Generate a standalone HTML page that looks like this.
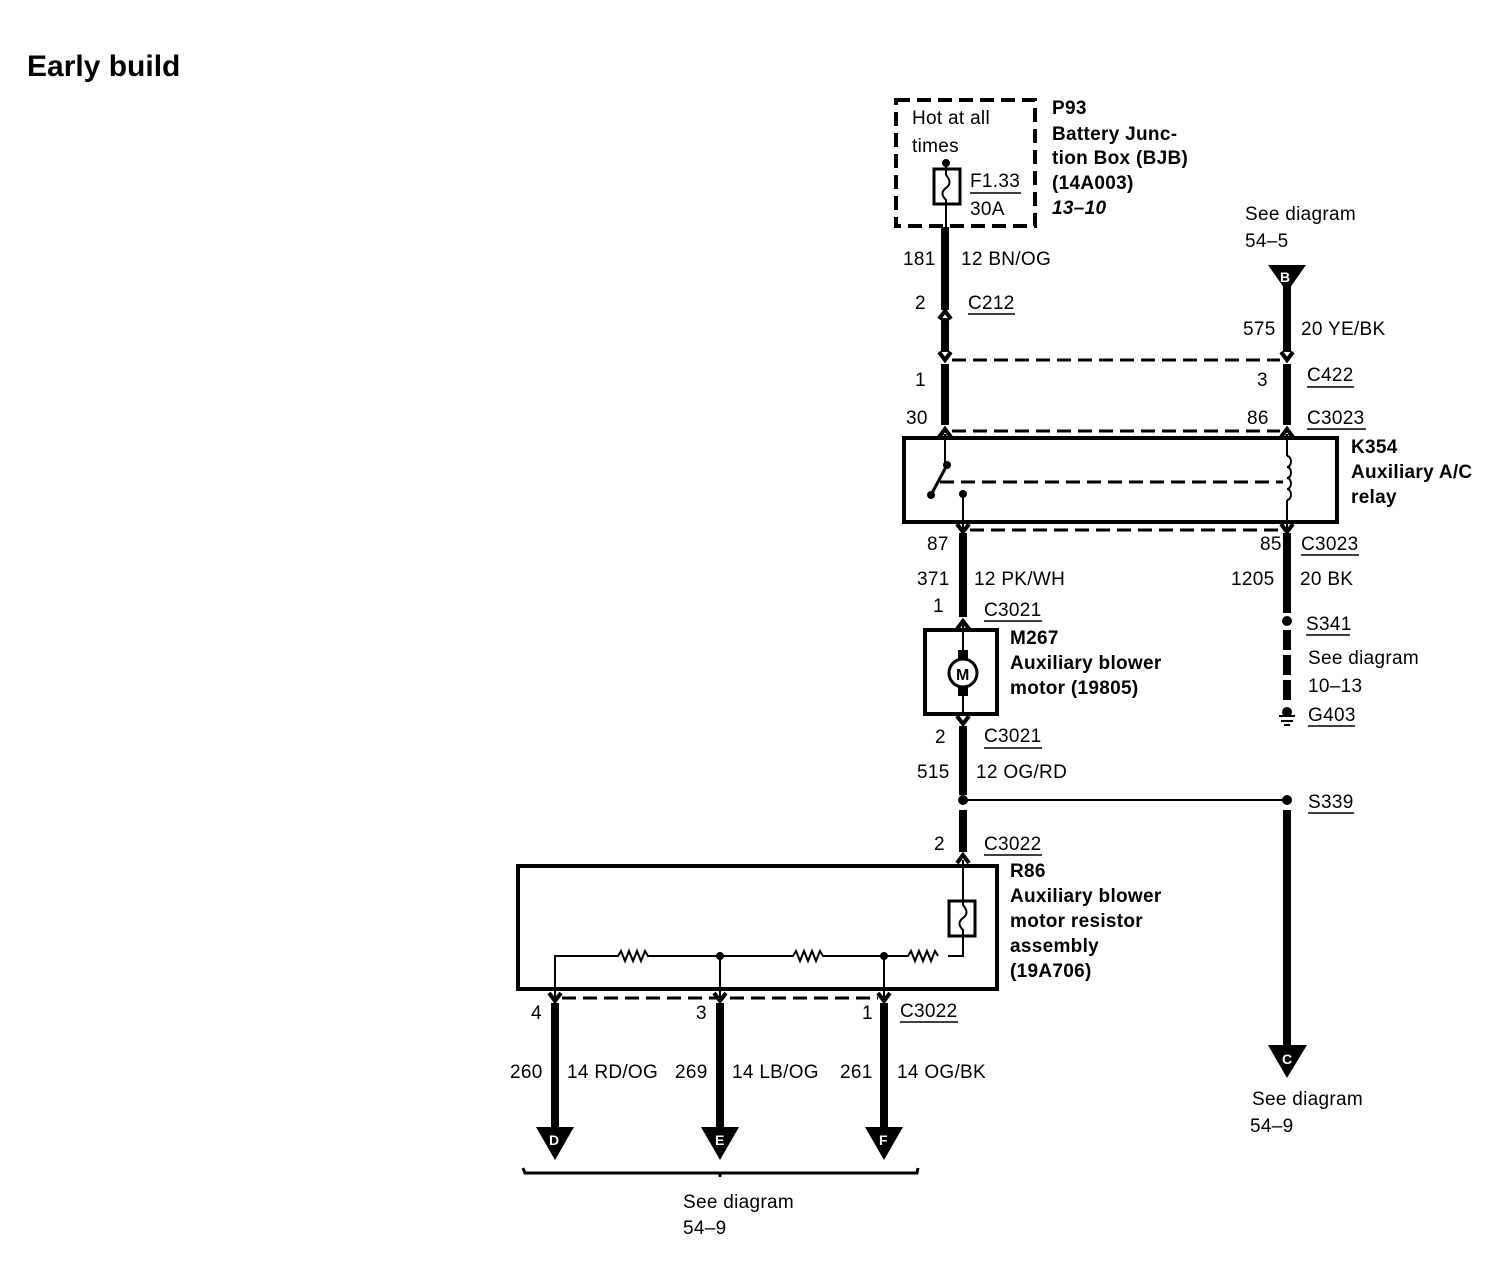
<!DOCTYPE html>
<html><head><meta charset="utf-8"><style>
body{margin:0;background:#fff}
svg text{font-family:"Liberation Sans",Arial,sans-serif;font-size:19px;letter-spacing:0.3px;fill:#000}
.b{font-weight:bold}
</style></head><body>
<svg width="1486" height="1280" viewBox="0 0 1486 1280" xmlns="http://www.w3.org/2000/svg">
<defs>
<path id="dn" d="M-6,-7 L0,1 L6,-7" fill="none" stroke="#000" stroke-width="4"/>
<path id="up" d="M-6,7 L0,-1 L6,7" fill="none" stroke="#000" stroke-width="4"/>
</defs>
<text x="27" y="76" class="b" style="font-size:30px;letter-spacing:0">Early build</text>

<!-- BJB -->
<rect x="896" y="100" width="139" height="126" fill="none" stroke="#000" stroke-width="4" stroke-dasharray="14,7"/>
<text x="912" y="124">Hot at all</text>
<text x="912" y="152">times</text>
<rect x="934" y="169" width="26" height="35" fill="none" stroke="#000" stroke-width="3"/>
<circle cx="946" cy="163" r="4"/>
<line x1="946" y1="163" x2="946" y2="175" stroke="#000" stroke-width="2"/>
<path d="M946,175 Q953,183 946,188 Q939,193 946,200 L946,228" fill="none" stroke="#000" stroke-width="2"/>
<text x="970" y="187">F1.33</text>
<line x1="970" y1="193" x2="1021" y2="193" stroke="#000" stroke-width="1.5"/>
<text x="970" y="215">30A</text>
<text x="1052" y="114" class="b">P93</text>
<text x="1052" y="140" class="b">Battery Junc-</text>
<text x="1052" y="164" class="b">tion Box (BJB)</text>
<text x="1052" y="189" class="b">(14A003)</text>
<text x="1052" y="214" class="b" font-style="italic">13–10</text>

<!-- left wire top -->
<line x1="945" y1="227" x2="945" y2="310" stroke="#000" stroke-width="8"/>
<use href="#up" x="945" y="312"/>
<line x1="945" y1="318" x2="945" y2="352" stroke="#000" stroke-width="8"/>
<use href="#dn" x="945" y="359"/>
<line x1="945" y1="364" x2="945" y2="425" stroke="#000" stroke-width="8"/>
<use href="#up" x="945" y="430"/>
<line x1="945" y1="434" x2="945" y2="438" stroke="#000" stroke-width="3"/>
<text x="903" y="265">181</text>
<text x="961" y="265">12 BN/OG</text>
<text x="915" y="309">2</text>
<text x="968" y="309">C212</text>
<line x1="968" y1="314" x2="1015" y2="314" stroke="#000" stroke-width="1.5"/>
<text x="915" y="386">1</text>
<text x="906" y="424">30</text>

<!-- right wire top -->
<text x="1245" y="220">See diagram</text>
<text x="1245" y="247">54–5</text>
<path d="M1268,265 L1306,265 L1287,292 Z"/>
<text x="1280" y="282" style="font-size:14px;fill:#fff" class="b">B</text>
<line x1="1287" y1="285" x2="1287" y2="352" stroke="#000" stroke-width="8"/>
<use href="#dn" x="1287" y="359"/>
<line x1="1287" y1="364" x2="1287" y2="425" stroke="#000" stroke-width="8"/>
<use href="#up" x="1287" y="430"/>
<line x1="1287" y1="434" x2="1287" y2="438" stroke="#000" stroke-width="3"/>
<text x="1243" y="335">575</text>
<text x="1301" y="335">20 YE/BK</text>
<text x="1257" y="386">3</text>
<text x="1307" y="381">C422</text>
<line x1="1307" y1="387" x2="1354" y2="387" stroke="#000" stroke-width="1.5"/>
<text x="1247" y="424">86</text>
<text x="1307" y="424">C3023</text>
<line x1="1307" y1="429" x2="1366" y2="429" stroke="#000" stroke-width="1.5"/>
<line x1="952" y1="360" x2="1280" y2="360" stroke="#000" stroke-width="3" stroke-dasharray="14,7"/>
<line x1="952" y1="431" x2="1280" y2="431" stroke="#000" stroke-width="3" stroke-dasharray="14,7"/>

<!-- relay -->
<rect x="904" y="438" width="433" height="84" fill="none" stroke="#000" stroke-width="4"/>
<line x1="945" y1="438" x2="945" y2="465" stroke="#000" stroke-width="2"/>
<circle cx="947" cy="465" r="4"/>
<line x1="947" y1="465" x2="931" y2="495" stroke="#000" stroke-width="3"/>
<circle cx="931" cy="495" r="4"/>
<line x1="940" y1="482" x2="1283" y2="482" stroke="#000" stroke-width="3" stroke-dasharray="14,7"/>
<circle cx="963" cy="494" r="4"/>
<line x1="963" y1="494" x2="963" y2="530" stroke="#000" stroke-width="2"/>
<line x1="1287" y1="438" x2="1287" y2="456" stroke="#000" stroke-width="2"/>
<path d="M1287,456 a4,5.5 0 0 1 0,11 a4,5.5 0 0 1 0,11 a4,5.5 0 0 1 0,11 a4,5.5 0 0 1 0,11" fill="none" stroke="#000" stroke-width="2"/>
<line x1="1287" y1="500" x2="1287" y2="530" stroke="#000" stroke-width="2"/>
<text x="1351" y="453" class="b">K354</text>
<text x="1351" y="478" class="b">Auxiliary A/C</text>
<text x="1351" y="503" class="b">relay</text>
<line x1="970" y1="530" x2="1280" y2="530" stroke="#000" stroke-width="3" stroke-dasharray="14,7"/>
<use href="#dn" x="963" y="531"/>
<use href="#dn" x="1287" y="531"/>

<!-- 87 wire to motor -->
<line x1="963" y1="533" x2="963" y2="617" stroke="#000" stroke-width="8"/>
<use href="#up" x="963" y="622"/>
<line x1="963" y1="625" x2="963" y2="630" stroke="#000" stroke-width="2"/>
<text x="927" y="550">87</text>
<text x="917" y="585">371</text>
<text x="974" y="585">12 PK/WH</text>
<text x="933" y="612">1</text>
<text x="984" y="616">C3021</text>
<line x1="984" y1="621" x2="1042" y2="621" stroke="#000" stroke-width="1.5"/>
<rect x="925" y="630" width="72" height="84" fill="none" stroke="#000" stroke-width="4"/>
<line x1="963" y1="630" x2="963" y2="714" stroke="#000" stroke-width="2"/>
<rect x="958" y="650" width="10" height="46" fill="#000"/>
<circle cx="963" cy="673" r="14" fill="#fff" stroke="#000" stroke-width="3"/>
<text x="956" y="680" class="b" style="font-size:16px;letter-spacing:0">M</text>
<text x="1010" y="644" class="b">M267</text>
<text x="1010" y="669" class="b">Auxiliary blower</text>
<text x="1010" y="694" class="b">motor (19805)</text>
<use href="#dn" x="963" y="723"/>
<line x1="963" y1="726" x2="963" y2="795" stroke="#000" stroke-width="8"/>
<text x="935" y="743">2</text>
<text x="984" y="742">C3021</text>
<line x1="984" y1="748" x2="1042" y2="748" stroke="#000" stroke-width="1.5"/>
<text x="917" y="778">515</text>
<text x="976" y="778">12 OG/RD</text>
<circle cx="963" cy="800" r="5"/>
<line x1="963" y1="800" x2="1287" y2="800" stroke="#000" stroke-width="2"/>
<circle cx="1287" cy="800" r="5"/>
<text x="1308" y="808">S339</text>
<line x1="1308" y1="813" x2="1354" y2="813" stroke="#000" stroke-width="1.5"/>
<line x1="963" y1="810" x2="963" y2="852" stroke="#000" stroke-width="8"/>
<use href="#up" x="963" y="856"/>
<line x1="963" y1="860" x2="963" y2="866" stroke="#000" stroke-width="2"/>
<text x="934" y="850">2</text>
<text x="984" y="850">C3022</text>
<line x1="984" y1="855" x2="1042" y2="855" stroke="#000" stroke-width="1.5"/>

<!-- right ground wire -->
<line x1="1287" y1="533" x2="1287" y2="613" stroke="#000" stroke-width="8"/>
<circle cx="1287" cy="621" r="5"/>
<line x1="1287" y1="630" x2="1287" y2="700" stroke="#000" stroke-width="8" stroke-dasharray="20,5"/>
<circle cx="1287" cy="712" r="5"/>
<line x1="1279" y1="716" x2="1295" y2="716" stroke="#000" stroke-width="2"/>
<line x1="1281" y1="721" x2="1293" y2="721" stroke="#000" stroke-width="2"/>
<line x1="1284" y1="725" x2="1290" y2="725" stroke="#000" stroke-width="2"/>
<text x="1260" y="550">85</text>
<text x="1301" y="550">C3023</text>
<line x1="1301" y1="555" x2="1359" y2="555" stroke="#000" stroke-width="1.5"/>
<text x="1231" y="585">1205</text>
<text x="1300" y="585">20 BK</text>
<text x="1306" y="630">S341</text>
<line x1="1306" y1="635" x2="1350" y2="635" stroke="#000" stroke-width="1.5"/>
<text x="1308" y="664">See diagram</text>
<text x="1308" y="692">10–13</text>
<text x="1308" y="721">G403</text>
<line x1="1308" y1="726" x2="1355" y2="726" stroke="#000" stroke-width="1.5"/>
<line x1="1287" y1="810" x2="1287" y2="1052" stroke="#000" stroke-width="8"/>
<path d="M1268,1045 L1307,1045 L1287,1078 Z"/>
<text x="1282" y="1064" style="font-size:14px;fill:#fff" class="b">C</text>
<text x="1252" y="1105">See diagram</text>
<text x="1250" y="1132">54–9</text>

<!-- resistor assembly -->
<rect x="518" y="866" width="479" height="123" fill="none" stroke="#000" stroke-width="4"/>
<rect x="949" y="901" width="26" height="35" fill="none" stroke="#000" stroke-width="3"/>
<path d="M963,866 L963,905 Q970,913 963,918 Q956,923 963,930 L963,956 L948,956" fill="none" stroke="#000" stroke-width="2"/>
<path d="M555,997 L555,956 L618,956 l3,-5 l4,10 l4,-10 l4,10 l4,-10 l4,10 l4,-10 l3,5 L793,956 l3,-5 l4,10 l4,-10 l4,10 l4,-10 l4,10 l4,-10 l3,5 L908,956 l3,-5 l4,10 l4,-10 l4,10 l4,-10 l4,10 l4,-10 l3,5" fill="none" stroke="#000" stroke-width="2"/>
<circle cx="720" cy="956" r="4"/><circle cx="884" cy="956" r="4"/>
<line x1="720" y1="956" x2="720" y2="997" stroke="#000" stroke-width="2"/>
<line x1="884" y1="956" x2="884" y2="997" stroke="#000" stroke-width="2"/>
<text x="1010" y="877" class="b">R86</text>
<text x="1010" y="902" class="b">Auxiliary blower</text>
<text x="1010" y="927" class="b">motor resistor</text>
<text x="1010" y="952" class="b">assembly</text>
<text x="1010" y="977" class="b">(19A706)</text>
<line x1="562" y1="998" x2="878" y2="998" stroke="#000" stroke-width="3" stroke-dasharray="14,7"/>
<g>
<use href="#dn" x="555" y="1000"/><use href="#dn" x="720" y="1000"/><use href="#dn" x="884" y="1000"/>
<line x1="555" y1="1003" x2="555" y2="1132" stroke="#000" stroke-width="8"/>
<line x1="720" y1="1003" x2="720" y2="1132" stroke="#000" stroke-width="8"/>
<line x1="884" y1="1003" x2="884" y2="1132" stroke="#000" stroke-width="8"/>
<path d="M536,1127 L574,1127 L555,1160 Z"/>
<path d="M701,1127 L739,1127 L720,1160 Z"/>
<path d="M865,1127 L903,1127 L884,1160 Z"/>
<text x="549" y="1145" style="font-size:14px;fill:#fff" class="b">D</text>
<text x="715" y="1145" style="font-size:14px;fill:#fff" class="b">E</text>
<text x="879" y="1145" style="font-size:14px;fill:#fff" class="b">F</text>
</g>
<text x="531" y="1019">4</text>
<text x="696" y="1019">3</text>
<text x="862" y="1019">1</text>
<text x="900" y="1017">C3022</text>
<line x1="900" y1="1022" x2="958" y2="1022" stroke="#000" stroke-width="1.5"/>
<text x="510" y="1078">260</text>
<text x="567" y="1078">14 RD/OG</text>
<text x="675" y="1078">269</text>
<text x="732" y="1078">14 LB/OG</text>
<text x="840" y="1078">261</text>
<text x="897" y="1078">14 OG/BK</text>
<path d="M523,1168 L525,1173 L917,1173 L918,1168 M720,1173 L720,1177" fill="none" stroke="#000" stroke-width="3"/>
<text x="683" y="1208">See diagram</text>
<text x="683" y="1234">54–9</text>
</svg>
</body></html>
